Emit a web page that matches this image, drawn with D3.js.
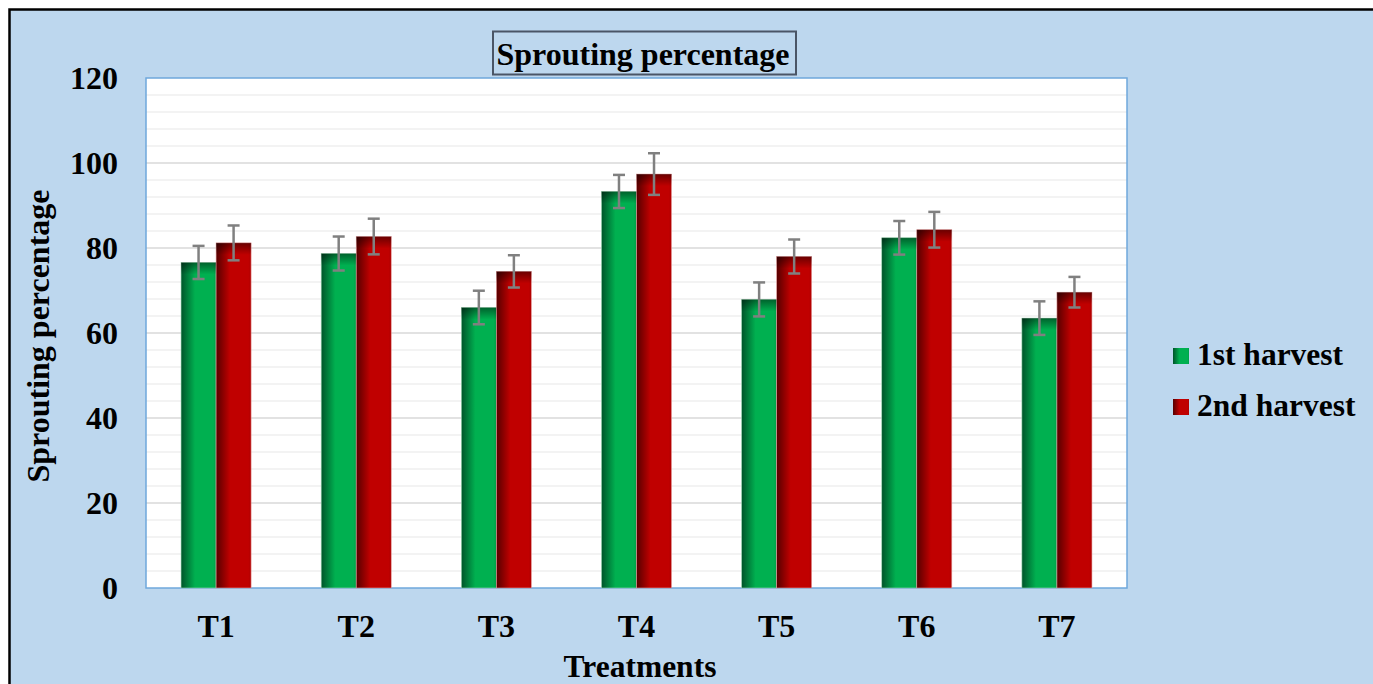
<!DOCTYPE html>
<html>
<head>
<meta charset="utf-8">
<script src="https://cdn.jsdelivr.net/npm/d3@7"></script>
<style>
  html, body { margin: 0; padding: 0; background: #fff; }
  svg text { font-family: "Liberation Serif", "Times New Roman", serif; font-weight: bold; fill: #000; }
</style>
</head>
<body>
<div class="chart-container"></div>
<script>
// data
var categories = ['T1', 'T2', 'T3', 'T4', 'T5', 'T6', 'T7'];
var seriesNames = ['1st harvest', '2nd harvest'];
var firstHarvest = [76.6, 78.7, 66.0, 93.3, 67.9, 82.4, 63.5];
var firstErr = [3.9, 4.0, 3.95, 3.9, 4.0, 3.95, 3.95];
var secondHarvest = [81.2, 82.7, 74.5, 97.4, 78.0, 84.3, 69.6];
var secondErr = [4.1, 4.2, 3.8, 4.9, 4.0, 4.2, 3.6];
var yTicks = [0, 20, 40, 60, 80, 100, 120];

var W = 1373, H = 684;
var plot = {left: 146, right: 1127, top: 78, bottom: 588};

var svg = d3.select('.chart-container').append('svg')
    .attr('width', W)
    .attr('height', H);

var defs = svg.append('defs');
function barGradient(id, dark, main) {
  var g = defs.append('linearGradient').attr('id', id)
      .attr('x1', '0%').attr('x2', '100%').attr('y1', '0%').attr('y2', '0%');
  g.append('stop').attr('offset', '0%').attr('stop-color', dark);
  g.append('stop').attr('offset', '40%').attr('stop-color', main);
  g.append('stop').attr('offset', '92%').attr('stop-color', main);
  g.append('stop').attr('offset', '100%').attr('stop-color', d3.color(main).darker(0.3));
}
barGradient('gGreen', '#00542a', '#00b050');
barGradient('gRed', '#560000', '#c00000');
var topShade = defs.append('linearGradient').attr('id', 'topShade')
    .attr('x1', '0%').attr('x2', '0%').attr('y1', '0%').attr('y2', '100%');
topShade.append('stop').attr('offset', '0%').attr('stop-color', '#000').attr('stop-opacity', 0.45);
topShade.append('stop').attr('offset', '100%').attr('stop-color', '#000').attr('stop-opacity', 0);

// background frame
svg.append('rect')
    .attr('x', 9.5).attr('y', 9.5)
    .attr('width', W + 20).attr('height', H + 20)
    .attr('fill', '#bdd7ee')
    .attr('stroke', '#000').attr('stroke-width', 2.5);

var x = d3.scaleBand()
    .domain(categories)
    .range([plot.left, plot.right])
    .paddingInner(0.5)
    .paddingOuter(0.25);

var x1 = d3.scaleBand()
    .domain(seriesNames)
    .range([0, x.bandwidth()]);

var y = d3.scaleLinear()
    .domain([0, 120])
    .range([plot.bottom, plot.top]);

// plot area
svg.append('rect')
    .attr('x', plot.left).attr('y', plot.top)
    .attr('width', plot.right - plot.left).attr('height', plot.bottom - plot.top)
    .attr('fill', '#fff');

// grid lines: minor every 4, major every 20
svg.append('g').selectAll('line')
    .data(d3.range(4, 120, 4))
  .enter().append('line')
    .attr('x1', plot.left).attr('x2', plot.right)
    .attr('y1', function (d) { return y(d); })
    .attr('y2', function (d) { return y(d); })
    .attr('stroke', function (d) { return d % 20 === 0 ? '#d9d9d9' : '#efefef'; })
    .attr('stroke-width', 1.5);

svg.append('rect')
    .attr('x', plot.left).attr('y', plot.top)
    .attr('width', plot.right - plot.left).attr('height', plot.bottom - plot.top)
    .attr('fill', 'none')
    .attr('stroke', '#6fa8dc').attr('stroke-width', 1.5);

var rows = categories.map(function (c, i) {
  return [
    {cat: c, s: seriesNames[0], v: firstHarvest[i], e: firstErr[i], fill: 'url(#gGreen)'},
    {cat: c, s: seriesNames[1], v: secondHarvest[i], e: secondErr[i], fill: 'url(#gRed)'}
  ];
});
var bars = d3.merge(rows);

var barG = svg.append('g');
barG.selectAll('.bar')
    .data(bars)
  .enter().append('rect')
    .classed('bar', true)
    .attr('x', function (d) { return x(d.cat) + x1(d.s); })
    .attr('y', function (d) { return y(d.v); })
    .attr('width', x1.bandwidth())
    .attr('height', function (d) { return y(0) - y(d.v); })
    .attr('fill', function (d) { return d.fill; })
    .attr('stroke', function (d) { return d.s === seriesNames[0] ? '#9fd8b5' : '#e8a0a0'; })
    .attr('stroke-width', 0.6);

barG.selectAll('.shade')
    .data(bars)
  .enter().append('rect')
    .classed('shade', true)
    .attr('x', function (d) { return x(d.cat) + x1(d.s); })
    .attr('y', function (d) { return y(d.v); })
    .attr('width', x1.bandwidth())
    .attr('height', 12)
    .attr('fill', 'url(#topShade)');

// error bars
var errG = svg.append('g')
    .attr('stroke', '#808080').attr('stroke-width', 2.5);
bars.forEach(function (d) {
  var cx = x(d.cat) + x1(d.s) + x1.bandwidth() / 2;
  errG.append('line')
      .attr('x1', cx).attr('x2', cx)
      .attr('y1', y(d.v + d.e)).attr('y2', y(d.v - d.e));
  [d.v + d.e, d.v - d.e].forEach(function (v) {
    errG.append('line')
        .attr('x1', cx - 6).attr('x2', cx + 6)
        .attr('y1', y(v)).attr('y2', y(v));
  });
});

// axes labels
svg.append('g').selectAll('text')
    .data(yTicks)
  .enter().append('text')
    .attr('x', 118)
    .attr('y', function (d) { return y(d); })
    .attr('dy', '0.35em')
    .attr('text-anchor', 'end')
    .style('font-size', '32px')
    .text(function (d) { return d; });

svg.append('g').selectAll('text')
    .data(categories)
  .enter().append('text')
    .attr('x', function (d) { return x(d) + x.bandwidth() / 2; })
    .attr('y', plot.bottom + 49)
    .attr('text-anchor', 'middle')
    .style('font-size', '32px')
    .text(function (d) { return d; });

svg.append('text')
    .attr('x', 640).attr('y', 677)
    .attr('text-anchor', 'middle')
    .style('font-size', '31.5px')
    .text('Treatments');

svg.append('text')
    .attr('transform', 'translate(49,336) rotate(-90)')
    .attr('text-anchor', 'middle')
    .style('font-size', '32px')
    .text('Sprouting percentage');

// title box
svg.append('rect')
    .attr('x', 493).attr('y', 31.5)
    .attr('width', 303).attr('height', 43)
    .attr('fill', '#bdd7ee')
    .attr('stroke', '#4a5566').attr('stroke-width', 2);
svg.append('text')
    .attr('x', 643).attr('y', 65)
    .attr('text-anchor', 'middle')
    .style('font-size', '32px')
    .text('Sprouting percentage');

// legend
var legend = svg.append('g').selectAll('g')
    .data([{name: seriesNames[0], fill: 'url(#gGreen)'}, {name: seriesNames[1], fill: 'url(#gRed)'}])
  .enter().append('g')
    .attr('transform', function (d, i) { return 'translate(1173,' + (348 + i * 51) + ')'; });
legend.append('rect')
    .attr('width', 16).attr('height', 16)
    .attr('fill', function (d) { return d.fill; });
legend.append('text')
    .attr('x', 24).attr('y', 17)
    .style('font-size', '31.5px')
    .text(function (d) { return d.name; });
</script>
</body>
</html>
